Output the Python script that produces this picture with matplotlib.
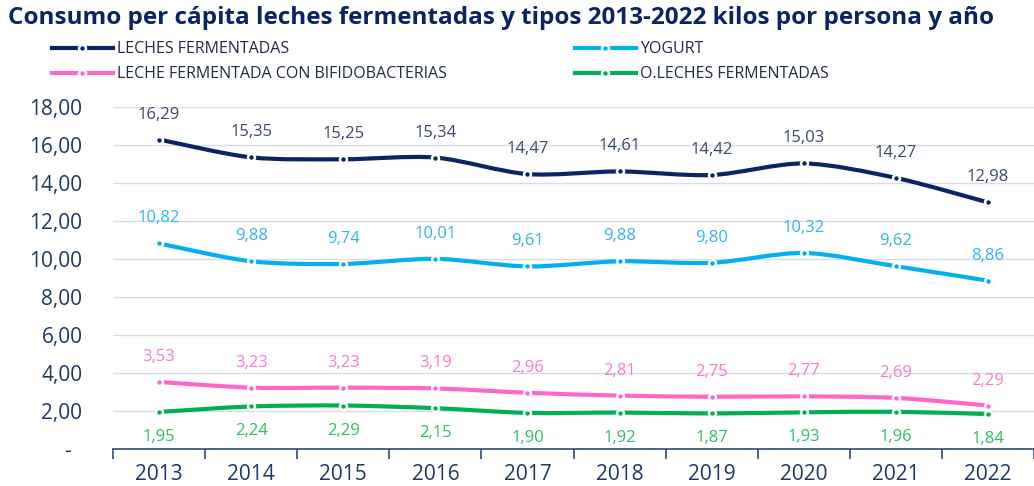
import numpy as np
import matplotlib.pyplot as plt
from matplotlib.path import Path
from matplotlib.patches import PathPatch
from matplotlib.lines import Line2D

plt.rcParams['font.family'] = ['Open Sans', 'DejaVu Sans']

years = ['2013', '2014', '2015', '2016', '2017', '2018', '2019', '2020', '2021', '2022']
leches_fermentadas = [16.29, 15.35, 15.25, 15.34, 14.47, 14.61, 14.42, 15.03, 14.27, 12.98]
yogurt = [10.82, 9.88, 9.74, 10.01, 9.61, 9.88, 9.80, 10.32, 9.62, 8.86]
bifidobacterias = [3.53, 3.23, 3.23, 3.19, 2.96, 2.81, 2.75, 2.77, 2.69, 2.29]
otras = [1.95, 2.24, 2.29, 2.15, 1.90, 1.92, 1.87, 1.93, 1.96, 1.84]
y_ticks = [0, 2, 4, 6, 8, 10, 12, 14, 16, 18]

series = [
    ('LECHES FERMENTADAS', leches_fermentadas, '#0b2463', '#3b4a6b', 18),
    ('YOGURT', yogurt, '#00b0f0', '#2fb6ee', 18),
    ('LECHE FERMENTADA CON BIFIDOBACTERIAS', bifidobacterias, '#ff66cc', '#ff77cf', 18),
    ('O.LECHES FERMENTADAS', otras, '#00b050', '#2ec05e', -18),
]

navy = '#1f3864'

fig = plt.figure(figsize=(10.34, 4.86), dpi=100)
ax = fig.add_axes([0.1093, 0.0761, 0.8907, 0.7037])

x = np.arange(len(years))


def smooth_path(xs, ys):
    # catmull-rom style bezier through the data points
    pts = np.column_stack([xs, ys]).astype(float)
    verts = [pts[0]]
    codes = [Path.MOVETO]
    n = len(pts)
    for i in range(n - 1):
        p0 = pts[i - 1] if i > 0 else pts[i]
        p1 = pts[i]
        p2 = pts[i + 1]
        p3 = pts[i + 2] if i + 2 < n else pts[i + 1]
        c1 = p1 + (p2 - p0) / 7.0
        c2 = p2 - (p3 - p1) / 7.0
        verts += [c1, c2, p2]
        codes += [Path.CURVE4] * 3
    return Path(verts, codes)


handles = []
for name, vals, col, lcol, off in series:
    patch = PathPatch(smooth_path(x, vals), facecolor='none', edgecolor=col,
                      lw=3, capstyle='round', zorder=3)
    ax.add_patch(patch)
    ax.plot(x, vals, 'o', color=col, ms=5, mec='white', mew=1.8, zorder=4)
    for xi, v in zip(x, vals):
        ax.annotate(f'{v:.2f}'.replace('.', ','), (xi, v), xytext=(0, off),
                    textcoords='offset points', ha='center', va='center',
                    fontsize=12, color=lcol, clip_on=False)
    handles.append(Line2D([0], [0], color=col, lw=3, marker='o', ms=5,
                          mec='white', mew=1.8, label=name))

ax.set_xlim(-0.5, len(years) - 0.5)
ax.set_ylim(0, 18)
ax.set_yticks(y_ticks)
ax.set_yticklabels(['-  ' if t == 0 else f'{t:.2f}'.replace('.', ',') for t in y_ticks])
ax.grid(axis='y', color='#d9dce6', lw=1)
ax.set_axisbelow(True)

ax.set_xticks(x)
ax.set_xticklabels(years)
ax.set_xticks(np.arange(-0.5, len(years)), minor=True)
ax.tick_params(axis='x', which='major', length=0, pad=11, labelsize=15, labelcolor=navy)
ax.tick_params(axis='x', which='minor', length=7, width=1.2, color='#2f4a7a')
ax.tick_params(axis='y', length=0, pad=22, labelsize=15, labelcolor=navy)

for s in ['top', 'right', 'left']:
    ax.spines[s].set_visible(False)
ax.spines['bottom'].set_color('#2f4a7a')
ax.spines['bottom'].set_linewidth(1.2)

fig.text(0.008, 0.963, 'Consumo per cápita leches fermentadas y tipos 2013-2022 kilos por persona y año',
         fontsize=17.5, fontweight='bold', color='#0b2463', va='center', ha='left')

leg_kw = dict(loc='upper left', frameon=False, fontsize=11.5, handlelength=3.8,
              handletextpad=0.3, labelspacing=0.55, labelcolor='#1f2a44',
              borderpad=0, borderaxespad=0)
fig.legend(handles=[handles[0], handles[2]], bbox_to_anchor=(52 / 1034, 0.915), **leg_kw)
fig.legend(handles=[handles[1], handles[3]], bbox_to_anchor=(575 / 1034, 0.915), **leg_kw)

fig.savefig('out.png', dpi=100)
